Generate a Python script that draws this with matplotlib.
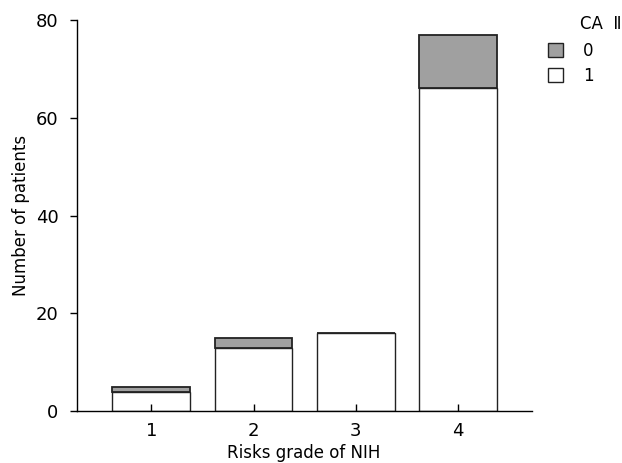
import numpy as np
import matplotlib
matplotlib.use("Agg")
import matplotlib.pyplot as plt
from matplotlib.patches import Patch

# data
grades = ["1", "2", "3", "4"]
ca_one = [4, 13, 16, 66]    # white, bottom
ca_zero = [1, 2, 0, 11]     # grey, stacked on top

plt.rcParams["font.family"] = "DejaVu Sans"

fig = plt.figure(figsize=(6.22, 4.63), dpi=100)
ax = fig.add_axes([0.123, 0.112, 0.732, 0.845])

x = np.arange(1, len(grades) + 1)
ax.bar(x, ca_one, width=0.76, color="white", edgecolor="#222222", linewidth=1.0)
ax.bar(x, ca_zero, width=0.76, bottom=ca_one, color="#a0a0a0",
       edgecolor="#222222", linewidth=1.3)

ax.set_xlim(0.27, 4.72)
ax.set_ylim(0, 80)
ax.set_yticks([0, 20, 40, 60, 80])
ax.set_xticks(x)
ax.set_xticklabels(grades)

for side in ["top", "right"]:
    ax.spines[side].set_visible(False)
ax.spines["left"].set_linewidth(1.0)
ax.spines["bottom"].set_linewidth(1.0)

ax.tick_params(axis="y", direction="out", length=5, width=1, labelsize=13, pad=8)
ax.tick_params(axis="x", direction="in", length=5, width=1, labelsize=13, pad=8)

ax.set_xlabel("Risks grade of NIH", fontsize=12, labelpad=3)
ax.set_ylabel("Number of patients", fontsize=12, labelpad=4)

# legend: title as separate text so it sits right of the swatches
fig.text(0.932, 0.948, "CA  Ⅱ", fontsize=12, ha="left", va="center")
handles = [Patch(facecolor="#a0a0a0", edgecolor="#222222", label="0"),
           Patch(facecolor="white", edgecolor="#222222", label="1")]
fig.legend(handles=handles, loc="upper left",
           bbox_to_anchor=(0.857, 0.942), frameon=False, fontsize=12,
           handlelength=0.9, handleheight=0.9,
           handletextpad=1.2, labelspacing=0.4)

fig.savefig("out.png", dpi=100)
